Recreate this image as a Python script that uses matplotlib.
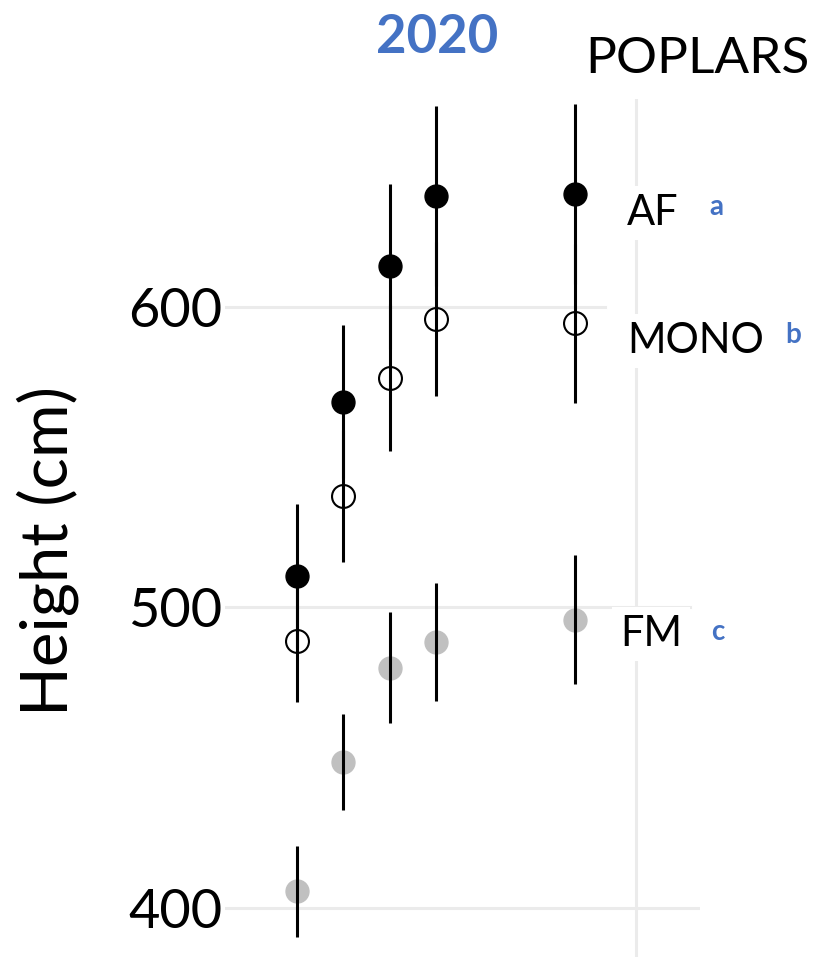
import matplotlib
matplotlib.use("Agg")
import matplotlib.pyplot as plt
import numpy as np

# ---- data ----
x_pos = [1, 2, 3, 4, 7]
af_mean = [510.5, 568.5, 613.5, 637.0, 637.5]
af_err = [24.0, 25.5, 27.5, 30.0, 30.0]
mono_mean = [489.0, 537.0, 576.5, 596.0, 594.5]
mono_err = [20.5, 22.0, 24.5, 25.5, 26.5]
fm_mean = [405.5, 448.5, 480.0, 488.5, 496.0]
fm_err = [15.0, 16.0, 18.5, 19.5, 21.5]
y_ticks = [400, 500, 600]
series_labels = ["AF", "MONO", "FM"]
letters = ["a", "b", "c"]

W, H = 821, 957
fig = plt.figure(figsize=(W / 100, H / 100), dpi=100)
plt.rcParams['font.family'] = ['Lato', 'DejaVu Sans']

ax = fig.add_axes([225 / W, 0, (700 - 225) / W, (957 - 99) / H])
ax.set_xlim(-0.555, 9.70)
ax.set_ylim(383.7, 669.2)

grid_c = '#ebebeb'
ax.axhline(600, xmin=0, xmax=0.80, color=grid_c, lw=2.2, zorder=0)
ax.axhline(500, xmin=0, xmax=0.979, color=grid_c, lw=2.2, zorder=0)
ax.axhline(400, xmin=0, xmax=1.0, color=grid_c, lw=2.2, zorder=0)
ax.axvline(8.32, color=grid_c, lw=2.2, zorder=0)

ms = 16.5
# markers
ax.plot(x_pos, fm_mean, 'o', ms=ms, color='#c0c0c0', mec='#c0c0c0', zorder=2)
ax.plot(x_pos, mono_mean, 'o', ms=ms, mfc='none', mec='black', mew=1.5, zorder=2)
ax.plot(x_pos, af_mean, 'o', ms=ms, color='black', zorder=2)
# error bars on top
for m, e in [(af_mean, af_err), (mono_mean, mono_err), (fm_mean, fm_err)]:
    ax.errorbar(x_pos, m, yerr=e, fmt='none', ecolor='black', elinewidth=2.2,
                capsize=0, zorder=3)

ax.set_yticks(y_ticks)
ax.set_yticklabels([str(t) for t in y_ticks], fontsize=39)
ax.set_xticks([])
ax.tick_params(axis='y', length=0, pad=2)
for s in ax.spines.values():
    s.set_visible(False)
ax.patch.set_alpha(0)

fig.text(48 / W, 1 - 551 / H, "Height (cm)", rotation=90, fontsize=47,
         ha='center', va='center')

blue = '#4472C4'
fig.text(437 / W, 1 - 53 / H, "2020", color=blue, fontsize=38, fontweight='bold',
         ha='center', va='baseline')
fig.text(697 / W, 1 - 73 / H, "POPLARS", color='black', fontsize=37,
         ha='center', va='baseline')

lab_pos = [(627, 225), (627, 353), (620, 646)]
let_pos = [(716, 215), (793, 343), (718, 640)]
for (lx, ly), t in zip(lab_pos, series_labels):
    fig.text(lx / W, 1 - ly / H, t, fontsize=30, ha='left', va='baseline',
             bbox=dict(facecolor='white', edgecolor='none', pad=6))
for (lx, ly), t in zip(let_pos, letters):
    fig.text(lx / W, 1 - ly / H, t, fontsize=20, fontweight='bold', color=blue,
             ha='center', va='baseline')

fig.savefig("out.png", dpi=100)
